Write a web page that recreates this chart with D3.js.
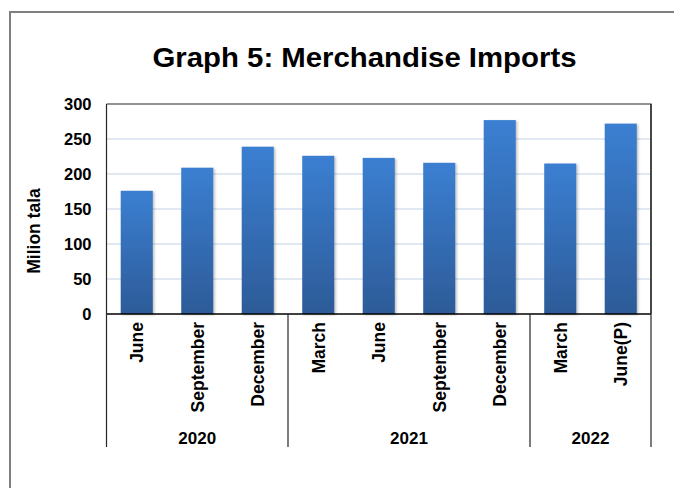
<!DOCTYPE html>
<html>
<head>
<meta charset="utf-8">
<script src="https://cdn.jsdelivr.net/npm/d3@7"></script>
<style>
  body { margin: 0; background: #fff; }
  text { font-family: "Liberation Sans", Arial, sans-serif; font-weight: bold; fill: #000; }
</style>
</head>
<body>
<script>
// Data
const quarters = ['June', 'September', 'December', 'March', 'June', 'September', 'December', 'March', 'June(P)'];
const years = ['2020', '2020', '2020', '2021', '2021', '2021', '2021', '2022', '2022'];
const imports = [176, 209, 239, 226, 223, 216, 277, 215, 272];
const yTicks = [0, 50, 100, 150, 200, 250, 300];

const W = 674, H = 488;
const m = { left: 106.5, right: 651, top: 104, bottom: 314 };

const svg = d3.select('body').append('svg')
    .attr('width', W)
    .attr('height', H);

// Gradient + shadow
const defs = svg.append('defs');
const grad = defs.append('linearGradient')
    .attr('id', 'barGrad')
    .attr('x1', 0).attr('y1', 0).attr('x2', 0).attr('y2', 1);
grad.append('stop').attr('offset', '0%').attr('stop-color', '#3b7fd2');
grad.append('stop').attr('offset', '100%').attr('stop-color', '#2d5b98');
const shadow = defs.append('filter').attr('id', 'shadow')
    .attr('x', '-20%').attr('y', '-5%').attr('width', '140%').attr('height', '110%');
shadow.append('feDropShadow')
    .attr('dx', 1.5).attr('dy', 1)
    .attr('stdDeviation', 0.8)
    .attr('flood-color', '#000')
    .attr('flood-opacity', 0.25);

// Outer frame
svg.append('rect')
    .attr('x', 10).attr('y', 12)
    .attr('width', W + 20).attr('height', H + 20)
    .attr('fill', 'none')
    .attr('stroke', '#7f7f7f')
    .attr('stroke-width', 2);

// Title
svg.append('text')
    .attr('x', 364.5).attr('y', 67)
    .attr('text-anchor', 'middle')
    .attr('font-size', 27.5)
    .attr('textLength', 424)
    .attr('lengthAdjust', 'spacingAndGlyphs')
    .text('Graph 5: Merchandise Imports');

// Scales
const x = d3.scaleBand()
    .domain(d3.range(quarters.length))
    .range([m.left, m.right])
    .paddingInner(0.47)
    .paddingOuter(0.235);

const y = d3.scaleLinear()
    .domain([0, 300])
    .range([m.bottom, m.top]);

// Gridlines
svg.append('g')
    .selectAll('line')
    .data(yTicks.filter(d => d > 0 && d < 300))
    .join('line')
    .attr('x1', m.left).attr('x2', m.right)
    .attr('y1', d => y(d)).attr('y2', d => y(d))
    .attr('stroke', '#d6e0ee')
    .attr('stroke-width', 1.3);

// Bars
svg.append('g')
    .selectAll('rect')
    .data(imports)
    .join('rect')
    .attr('x', (d, i) => x(i))
    .attr('y', d => y(d))
    .attr('width', x.bandwidth())
    .attr('height', d => y(0) - y(d))
    .attr('fill', 'url(#barGrad)')
    .attr('filter', 'url(#shadow)');

// Plot border (top + right)
svg.append('path')
    .attr('d', `M${m.left},${m.top}H${m.right}V${m.bottom}`)
    .attr('fill', 'none')
    .attr('stroke', '#262626')
    .attr('stroke-width', 1.2);

// Y axis
const yAxis = svg.append('g')
    .attr('transform', `translate(${m.left},0)`)
    .call(d3.axisLeft(y).tickValues(yTicks).tickSize(0).tickPadding(15));
yAxis.select('.domain').remove();
yAxis.selectAll('text')
    .attr('font-size', 16.5)
    .attr('font-family', '"Liberation Sans", Arial, sans-serif')
    .attr('font-weight', 'bold')
    .attr('fill', '#000');

// Y title
svg.append('text')
    .attr('transform', 'translate(40,231) rotate(-90)')
    .attr('text-anchor', 'middle')
    .attr('font-size', 17.5)
    .text('Milion tala');

// X baseline and group separators
const groupBottom = 447;
svg.append('line')
    .attr('x1', m.left).attr('x2', m.right)
    .attr('y1', m.bottom).attr('y2', m.bottom)
    .attr('stroke', '#000').attr('stroke-width', 1.5);

const step = x.step();
const edgeOf = i => m.left + i * step;
const groups = d3.groups(d3.range(years.length), i => years[i]);
const boundaries = [0];
groups.forEach(([, idx]) => boundaries.push(idx[idx.length - 1] + 1));

svg.append('g')
    .selectAll('line')
    .data(boundaries)
    .join('line')
    .attr('x1', d => edgeOf(d)).attr('x2', d => edgeOf(d))
    .attr('y1', (d, i) => (i === 0 || i === boundaries.length - 1) ? m.top : m.bottom)
    .attr('y2', groupBottom)
    .attr('stroke', '#262626')
    .attr('stroke-width', 1.2);

// Quarter labels
svg.append('g')
    .selectAll('text')
    .data(quarters)
    .join('text')
    .attr('transform', (d, i) => `translate(${x(i) + x.bandwidth() / 2},322) rotate(-90)`)
    .attr('text-anchor', 'end')
    .attr('dy', '0.36em')
    .attr('font-size', 17.5)
    .text(d => d);

// Year labels
svg.append('g')
    .selectAll('text')
    .data(groups)
    .join('text')
    .attr('x', ([, idx]) => (edgeOf(idx[0]) + edgeOf(idx[idx.length - 1] + 1)) / 2)
    .attr('y', 444)
    .attr('text-anchor', 'middle')
    .attr('font-size', 17)
    .text(([yr]) => yr);
</script>
</body>
</html>
